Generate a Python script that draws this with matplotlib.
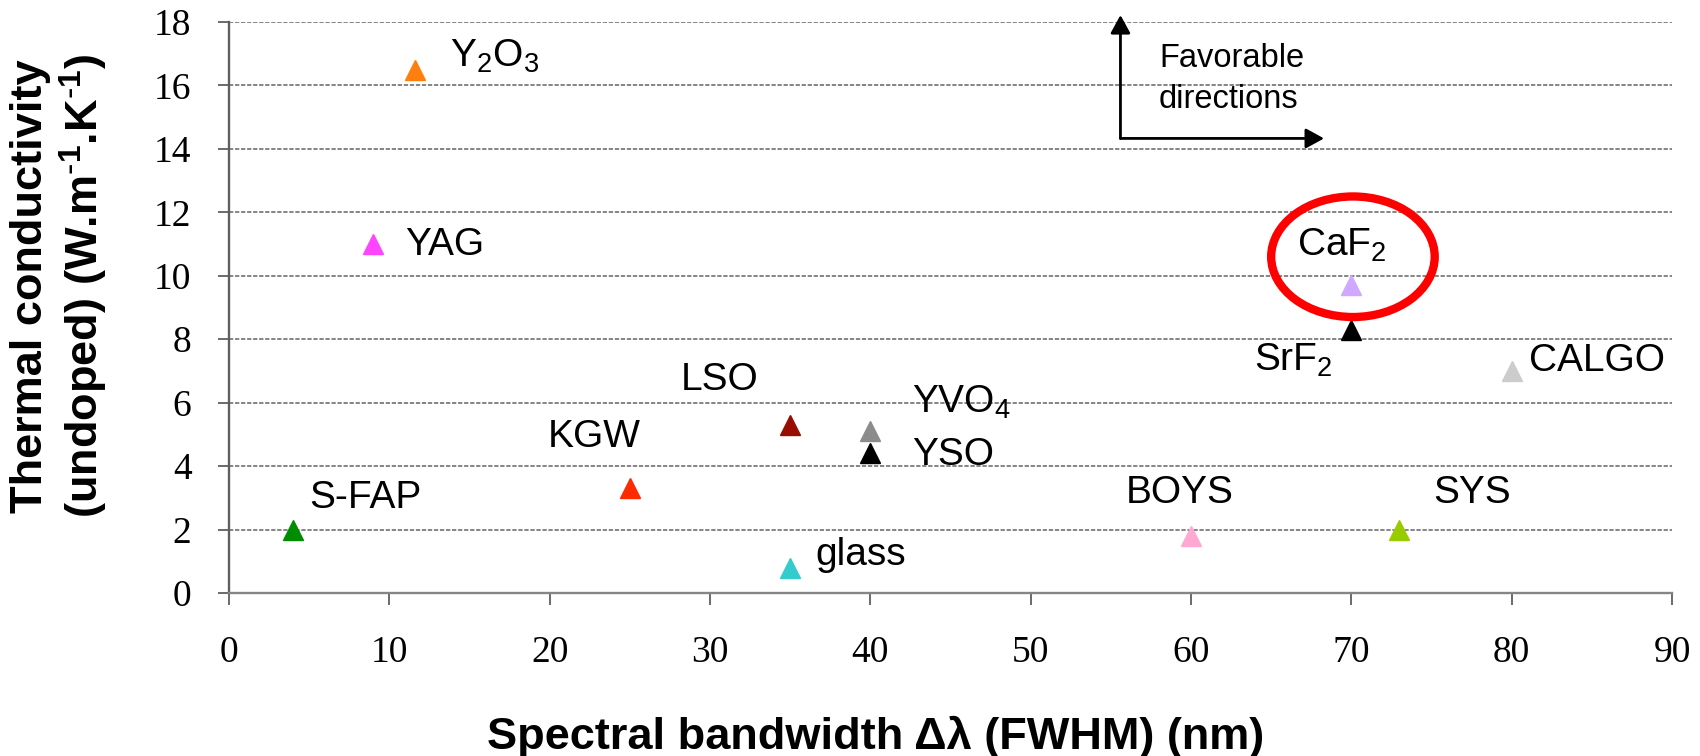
import matplotlib
matplotlib.use("Agg")
import matplotlib.pyplot as plt
from matplotlib.patches import Ellipse

plt.rcParams['font.family'] = ['Liberation Sans', 'DejaVu Sans']
plt.rcParams['mathtext.default'] = 'regular'

# Materials: spectral bandwidth (nm) vs. thermal conductivity (W/m/K)
materials = ["Y$_2$O$_3$", "YAG", "S-FAP", "KGW", "LSO", "YVO$_4$", "YSO",
             "glass", "BOYS", "SYS", "SrF$_2$", "CaF$_2$", "CALGO"]
bandwidth = [11.6, 9.0, 4.0, 25.0, 35.0, 40.0, 40.0, 35.0, 60.0, 73.0, 70.0, 70.0, 80.0]
conductivity = [16.5, 11.0, 2.0, 3.3, 5.3, 5.1, 4.4, 0.8, 1.8, 2.0, 8.3, 9.7, 7.0]
colors = ["#ff7f0e", "#ff44ff", "#008c00", "#ff2a00", "#990d00", "#8c8c8c", "#000000",
          "#33cccc", "#ffa8d4", "#99cc00", "#000000", "#d0a8ff", "#cccccc"]
# label anchor (left edge, baseline) in data units
label_x = [13.8, 11.0, 5.0, 19.9, 28.2, 42.6, 42.6, 36.6, 55.9, 75.1, 63.9, 66.6, 81.1]
label_y = [16.58, 10.66, 2.68, 4.61, 6.4, 5.67, 4.04, 0.88, 2.83, 2.83, 7.0, 10.62, 7.0]

x_ticks = list(range(0, 100, 10))
y_ticks = list(range(0, 20, 2))

fig = plt.figure(figsize=(17, 7.56), dpi=100)
ax = fig.add_axes([229 / 1700, 1 - 593 / 756, (1672 - 229) / 1700, (593 - 22) / 756])

ax.set_xlim(0, 90)
ax.set_ylim(0, 18)
ax.set_xticks(x_ticks)
ax.set_yticks(y_ticks)

for s in ("top", "right"):
    ax.spines[s].set_visible(False)
ax.spines["left"].set_color("#5f5f5f")
ax.spines["left"].set_linewidth(1.7)
ax.spines["bottom"].set_color("#858585")
ax.spines["bottom"].set_linewidth(1.7)

ax.yaxis.grid(True, linestyle=(0, (2.2, 0.9)), color="#858585", linewidth=1.4)
ax.set_axisbelow(True)

ax.tick_params(axis="y", direction="out", length=8, width=1.4, color="#6a6a6a", pad=19)
ax.tick_params(axis="x", direction="out", length=8.5, width=1.4, color="#6a6a6a", pad=22)
for lab in ax.get_xticklabels() + ax.get_yticklabels():
    lab.set_fontfamily("Liberation Serif")
    lab.set_fontsize(27)

for x, y, c in zip(bandwidth, conductivity, colors):
    ax.plot(x, y, marker="^", markersize=14, color=c, linestyle="none", zorder=3)

for name, lx, ly in zip(materials, label_x, label_y):
    ax.text(lx, ly, name, fontsize=28, ha="left", va="baseline", color="black")

# Highlight ring around CaF2
ax.add_patch(Ellipse((70.1, 10.6), 10.2, 3.8, fill=False, edgecolor="#ff0000",
                     linewidth=6, zorder=4))

# "Favorable directions" corner arrows
arrow_kw = dict(arrowstyle="-|>,head_length=0.55,head_width=0.3", color="black",
                lw=2, shrinkA=0, shrinkB=0, mutation_scale=20)
ax.annotate("", xy=(55.6, 18.22), xytext=(55.6, 14.33), arrowprops=arrow_kw,
            annotation_clip=False)
ax.annotate("", xy=(68.3, 14.33), xytext=(55.6, 14.33), arrowprops=arrow_kw,
            annotation_clip=False)
ax.text(58.0, 16.58, "Favorable", fontsize=23.5, ha="left", va="baseline")
ax.text(58.0, 15.29, "directions", fontsize=23.5, ha="left", va="baseline")

fig.text(876 / 1700, 1 - 737 / 756, "Spectral bandwidth Δλ (FWHM) (nm)",
         fontsize=32.5, fontweight="bold", ha="center", va="center")
fig.text(60 / 1700, 1 - 286 / 756,
         "Thermal conductivity\n(undoped) (W.m$^{\\text{-}1}$.K$^{\\text{-}1}$)",
         fontsize=32.5, fontweight="bold", rotation=90, ha="center", va="center",
         multialignment="center", linespacing=1.15)

fig.savefig("out.png", dpi=100)
